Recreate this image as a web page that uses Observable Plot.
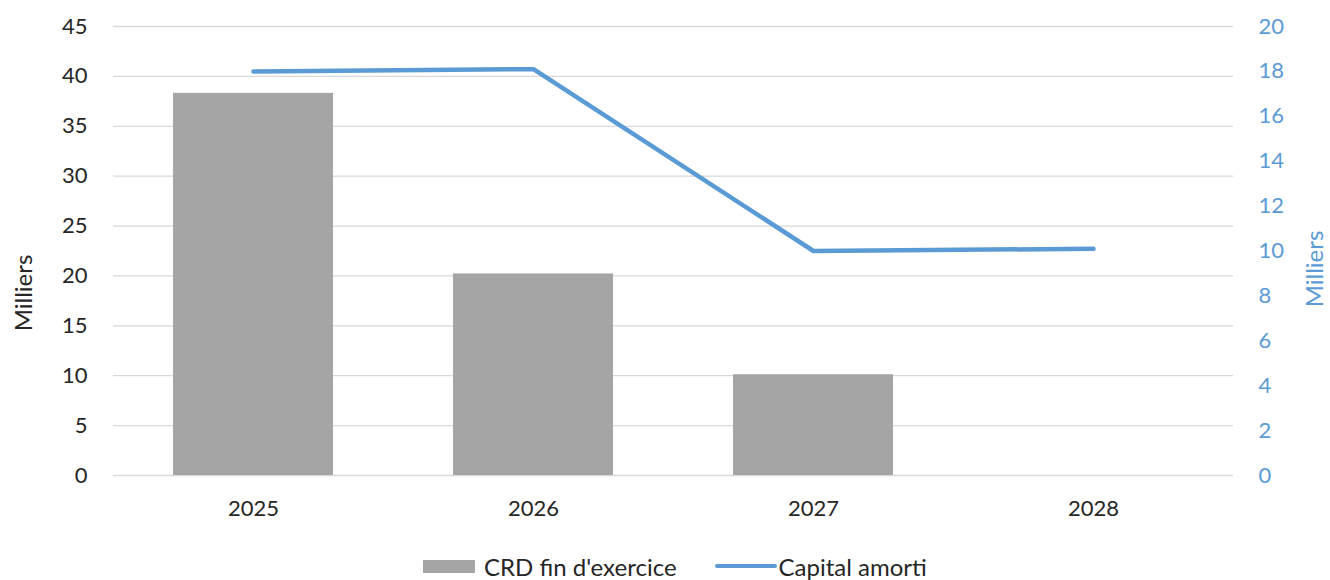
<!DOCTYPE html>
<html>
<head>
<meta charset="utf-8">
<script src="https://cdn.jsdelivr.net/npm/d3@7"></script>
<script src="https://cdn.jsdelivr.net/npm/@observablehq/plot@0.6"></script>
<style>
  html, body { margin: 0; padding: 0; background: #fff; }
  body { width: 1330px; height: 580px; overflow: hidden; font-family: Lato, "Open Sans", sans-serif; }
  #legend { display: flex; justify-content: flex-start; align-items: center; height: 28px; margin-top: 22px; padding-left: 423px; font-size: 24px; color: #262626; }
  .item { display: flex; align-items: center; }
  .sw-bar { width: 52px; height: 13px; background: #a5a5a5; margin-right: 9px; }
  .sw-line { width: 62px; height: 4px; background: #5b9bd5; border-radius: 2px; margin-right: 2px; }
  .gap { width: 38px; }
</style>
</head>
<body>
<div id="chart"></div>
<div id="legend">
  <div class="item"><span class="sw-bar"></span><span>CRD fin d'exercice</span></div>
  <div class="gap"></div>
  <div class="item"><span class="sw-line"></span><span>Capital amorti</span></div>
</div>
<script>
const years = ["2025", "2026", "2027", "2028"];
const crdFinExercice = [38.3, 20.2, 10.1, 0];
const capitalAmorti = [18.0, 18.1, 10.0, 10.1];
const leftTicks = [0, 5, 10, 15, 20, 25, 30, 35, 40, 45];
const rightTicks = [0, 2, 4, 6, 8, 10, 12, 14, 16, 18, 20];
const leftLabel = ["Milliers"];
const rightLabel = ["Milliers"];
const leftMax = 45, rightMax = 20;

const toLeft = v => v * leftMax / rightMax;
const bars = years.map((y, i) => ({year: y, value: crdFinExercice[i]}));
const line = years.map((y, i) => ({year: y, value: toLeft(capitalAmorti[i])}));

const chart = Plot.plot({
  width: 1330,
  height: 530,
  marginLeft: 113,
  marginRight: 97,
  marginTop: 26,
  marginBottom: 55,
  style: {fontFamily: "Lato, 'Open Sans', sans-serif", fontSize: "24px", color: "#262626", background: "#fff"},
  x: {domain: years, paddingInner: 0.43, paddingOuter: 0.215, label: null},
  y: {domain: [0, leftMax], label: null},
  marks: [
    Plot.gridY(leftTicks, {stroke: "#d9d9d9", strokeOpacity: 1, strokeWidth: 1.3}),
    Plot.barY(bars, {x: "year", y: "value", fill: "#a5a5a5"}),
    Plot.lineY(line, {x: "year", y: "value", stroke: "#5b9bd5", strokeWidth: 4.5, strokeLinejoin: "round", strokeLinecap: "round"}),
    Plot.axisX({tickSize: 0, tickPadding: 25, fontSize: 22, fill: "#262626"}),
    Plot.axisY(leftTicks, {anchor: "left", tickSize: 0, tickPadding: 26, fontSize: 22, fill: "#262626", label: null}),
    Plot.axisY(rightTicks.map(toLeft), {anchor: "right", tickSize: 0, tickPadding: 25, fontSize: 22, fill: "#5b9bd5",
      tickFormat: d => String(Math.round(d * rightMax / leftMax)), label: null}),
    Plot.text(leftLabel, {text: d => d, frameAnchor: "left", rotate: -90, dx: -89, dy: 42,
      fontSize: 24, fill: "#262626", textAnchor: "middle", lineAnchor: "middle"}),
    Plot.text(rightLabel, {text: d => d, frameAnchor: "right", rotate: -90, dx: 82, dy: 18,
      fontSize: 24, fill: "#5b9bd5", textAnchor: "middle", lineAnchor: "middle"})
  ]
});
document.getElementById("chart").appendChild(chart);
</script>
</body>
</html>
